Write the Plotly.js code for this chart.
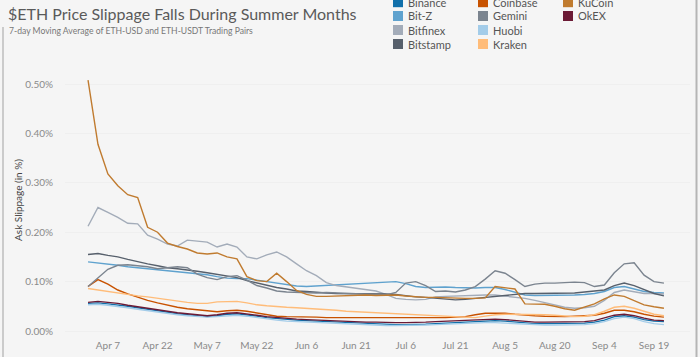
<!DOCTYPE html>
<html>
<head>
<meta charset="utf-8">
<script src="https://cdn.plot.ly/plotly-3.0.1.min.js"></script>
<style>
  html, body { margin: 0; padding: 0; background: #f5f5f5; }
  #chart { width: 700px; height: 357px; }
</style>
</head>
<body>
<div id="chart"></div>
<script>
// ---- Data (7-day moving average ask slippage, in %) ----
const dates = [
  "2020-04-01","2020-04-04","2020-04-07","2020-04-10","2020-04-13","2020-04-16","2020-04-19","2020-04-22","2020-04-25","2020-04-28",
  "2020-05-01","2020-05-04","2020-05-07","2020-05-10","2020-05-13","2020-05-16","2020-05-19","2020-05-22","2020-05-25","2020-05-28",
  "2020-05-31","2020-06-03","2020-06-06","2020-06-09","2020-06-12","2020-06-15","2020-06-18","2020-06-21","2020-06-24","2020-06-27",
  "2020-06-30","2020-07-03","2020-07-06","2020-07-09","2020-07-12","2020-07-15","2020-07-18","2020-07-21","2020-07-24","2020-07-27",
  "2020-07-30","2020-08-02","2020-08-05","2020-08-08","2020-08-11","2020-08-14","2020-08-17","2020-08-20","2020-08-23","2020-08-26",
  "2020-08-29","2020-09-01","2020-09-04","2020-09-07","2020-09-10","2020-09-13","2020-09-16","2020-09-19","2020-09-22"
];

const binance = [0.056,0.057,0.055,0.053,0.050,0.047,0.044,0.040,0.037,0.035,
  0.033,0.031,0.029,0.031,0.034,0.035,0.033,0.030,0.027,0.025,
  0.023,0.022,0.021,0.020,0.019,0.018,0.017,0.016,0.016,0.015,
  0.014,0.013,0.013,0.013,0.014,0.015,0.016,0.017,0.018,0.019,
  0.020,0.021,0.020,0.018,0.016,0.015,0.015,0.015,0.015,0.016,
  0.016,0.018,0.022,0.029,0.031,0.028,0.023,0.020,0.019];

const bitz = [0.140,0.138,0.136,0.133,0.130,0.128,0.127,0.125,0.123,0.120,
  0.118,0.116,0.114,0.110,0.107,0.106,0.106,0.103,0.100,0.097,
  0.094,0.091,0.090,0.091,0.093,0.094,0.095,0.096,0.097,0.098,
  0.099,0.100,0.096,0.090,0.088,0.089,0.089,0.088,0.087,0.087,
  0.088,0.088,0.084,0.078,0.073,0.072,0.072,0.073,0.073,0.073,
  0.074,0.076,0.080,0.088,0.090,0.085,0.080,0.078,0.077];

const bitfinex = [0.212,0.250,0.240,0.230,0.218,0.217,0.194,0.186,0.176,0.172,
  0.184,0.182,0.180,0.170,0.176,0.170,0.150,0.146,0.154,0.160,
  0.150,0.136,0.122,0.112,0.098,0.092,0.089,0.087,0.084,0.081,
  0.074,0.066,0.064,0.063,0.064,0.069,0.070,0.071,0.072,0.072,
  0.073,0.073,0.071,0.069,0.066,0.062,0.058,0.053,0.048,0.046,
  0.047,0.050,0.062,0.078,0.083,0.080,0.076,0.076,0.075];

const bitstamp = [0.155,0.157,0.153,0.150,0.145,0.140,0.136,0.132,0.128,0.126,
  0.124,0.121,0.118,0.115,0.112,0.108,0.102,0.097,0.092,0.088,
  0.085,0.081,0.080,0.078,0.077,0.076,0.076,0.076,0.076,0.076,
  0.075,0.074,0.071,0.069,0.068,0.066,0.064,0.063,0.064,0.066,
  0.068,0.070,0.072,0.074,0.076,0.076,0.076,0.076,0.076,0.077,
  0.079,0.081,0.083,0.092,0.097,0.092,0.084,0.076,0.071];

const coinbase = [0.090,0.104,0.095,0.083,0.075,0.068,0.062,0.057,0.052,0.048,
  0.045,0.043,0.041,0.039,0.041,0.042,0.040,0.037,0.033,0.030,
  0.029,0.029,0.028,0.028,0.027,0.027,0.026,0.026,0.026,0.026,
  0.026,0.026,0.026,0.026,0.026,0.026,0.027,0.028,0.029,0.033,
  0.036,0.036,0.036,0.034,0.032,0.031,0.030,0.029,0.029,0.030,
  0.031,0.032,0.036,0.042,0.042,0.039,0.034,0.030,0.028];

const gemini = [0.090,0.107,0.125,0.133,0.134,0.132,0.130,0.126,0.128,0.130,
  0.128,0.115,0.108,0.104,0.110,0.112,0.103,0.092,0.087,0.081,
  0.079,0.078,0.077,0.077,0.078,0.077,0.076,0.076,0.075,0.074,
  0.073,0.078,0.097,0.100,0.092,0.080,0.081,0.079,0.083,0.090,
  0.105,0.122,0.117,0.104,0.090,0.095,0.097,0.097,0.098,0.099,
  0.098,0.090,0.093,0.118,0.136,0.138,0.113,0.100,0.097];

const huobi = [0.053,0.054,0.052,0.050,0.047,0.044,0.041,0.038,0.035,0.033,
  0.031,0.029,0.028,0.029,0.031,0.032,0.030,0.027,0.024,0.022,
  0.020,0.019,0.018,0.017,0.016,0.015,0.014,0.013,0.012,0.012,
  0.011,0.011,0.011,0.011,0.012,0.013,0.014,0.015,0.015,0.016,
  0.017,0.017,0.016,0.014,0.013,0.012,0.012,0.012,0.012,0.013,
  0.013,0.015,0.019,0.025,0.028,0.025,0.019,0.015,0.013];

const kraken = [0.086,0.083,0.079,0.076,0.074,0.071,0.069,0.066,0.063,0.060,
  0.058,0.056,0.056,0.059,0.060,0.060,0.057,0.053,0.051,0.049,
  0.048,0.047,0.046,0.045,0.043,0.042,0.040,0.039,0.038,0.038,
  0.037,0.036,0.035,0.034,0.033,0.032,0.031,0.030,0.028,0.027,
  0.030,0.033,0.034,0.034,0.034,0.034,0.033,0.032,0.030,0.029,
  0.030,0.033,0.040,0.048,0.050,0.046,0.040,0.034,0.031];

const kucoin = [0.508,0.378,0.318,0.294,0.276,0.270,0.210,0.200,0.178,0.171,
  0.166,0.158,0.156,0.158,0.150,0.146,0.110,0.102,0.100,0.117,
  0.100,0.082,0.074,0.070,0.070,0.071,0.072,0.073,0.073,0.072,
  0.073,0.073,0.071,0.069,0.068,0.068,0.067,0.066,0.066,0.066,
  0.067,0.090,0.088,0.085,0.055,0.055,0.054,0.050,0.045,0.042,
  0.048,0.055,0.065,0.073,0.070,0.062,0.053,0.049,0.046];

const okex = [0.058,0.060,0.058,0.056,0.052,0.049,0.046,0.042,0.039,0.037,
  0.035,0.033,0.031,0.033,0.036,0.037,0.035,0.032,0.029,0.027,
  0.025,0.024,0.023,0.022,0.021,0.020,0.019,0.019,0.018,0.018,
  0.017,0.017,0.017,0.017,0.018,0.019,0.020,0.021,0.022,0.023,
  0.023,0.024,0.023,0.021,0.019,0.018,0.018,0.018,0.018,0.019,
  0.019,0.021,0.026,0.032,0.034,0.031,0.026,0.022,0.021];

const exchanges = ["Binance","Bit-Z","Bitfinex","Bitstamp","Coinbase","Gemini","Huobi","Kraken","KuCoin","OkEX"];
const seriesValues = [binance, bitz, bitfinex, bitstamp, coinbase, gemini, huobi, kraken, kucoin, okex];
const colors = ["#1170aa","#5fa2ce","#a3acb9","#57606c","#c85200","#7b848f","#a3cce9","#ffbc79","#c07b2f","#6b1a35"];

const tickDates = ["2020-04-07","2020-04-22","2020-05-07","2020-05-22","2020-06-06","2020-06-21",
                   "2020-07-06","2020-07-21","2020-08-05","2020-08-20","2020-09-04","2020-09-19"];
const tickLabels = ["Apr 7","Apr 22","May 7","May 22","Jun 6","Jun 21","Jul 6","Jul 21","Aug 5","Aug 20","Sep 4","Sep 19"];
const yTicks = [0, 0.1, 0.2, 0.3, 0.4, 0.5];
const yTickLabels = ["0.00%","0.10%","0.20%","0.30%","0.40%","0.50%"];

// ---- Layout geometry ----
const W = 700, H = 357;
const M = {l: 65, r: 10, t: 65, b: 22};
const PW = W - M.l - M.r, PH = H - M.t - M.b;
const px2x = p => (p - M.l) / PW;
const px2y = p => (H - M.b - p) / PH;

const FONT = "Lato, 'Open Sans', sans-serif";

const traces = exchanges.map((name, i) => ({
  type: "scatter",
  mode: "lines",
  name: name,
  x: dates,
  y: seriesValues[i],
  line: {color: colors[i], width: 1.4},
  hoverinfo: "skip"
}));

// ---- Manual legend (3 columns x 4 rows) ----
const legendCols = [393, 478, 563];
const legendRows = [2.2, 16, 30, 44];
const shapes = [];
const annotations = [];
exchanges.forEach((name, i) => {
  const col = Math.floor(i / 4), row = i % 4;
  const sx = legendCols[col], cy = legendRows[row];
  shapes.push({
    type: "rect", xref: "paper", yref: "paper",
    x0: px2x(sx), x1: px2x(sx + 10), y0: px2y(cy + 5), y1: px2y(cy - 5),
    fillcolor: colors[i], line: {width: 0}
  });
  annotations.push({
    xref: "paper", yref: "paper", x: px2x(sx + 13), y: px2y(cy),
    xanchor: "left", yanchor: "middle", showarrow: false,
    text: name, font: {family: FONT, size: 11, color: "#555"}
  });
});

// borders
shapes.push({type: "line", xref: "paper", yref: "paper",
  x0: px2x(3), x1: px2x(3), y0: px2y(27), y1: px2y(360), line: {color: "#bcbcbc", width: 1.5}});
shapes.push({type: "line", xref: "paper", yref: "paper",
  x0: px2x(696.5), x1: px2x(696.5), y0: px2y(-3), y1: px2y(360), line: {color: "#b5b5b5", width: 2}});

// subtitle
annotations.push({
  xref: "paper", yref: "paper", x: px2x(7), y: px2y(30.5),
  xanchor: "left", yanchor: "middle", showarrow: false,
  text: "7-day Moving Average of ETH-USD and ETH-USDT Trading Pairs",
  font: {family: FONT, size: 8.6, color: "#777"}
});

const layout = {
  width: W, height: H,
  margin: M,
  paper_bgcolor: "#f5f5f5",
  plot_bgcolor: "#f5f5f5",
  showlegend: false,
  title: {
    text: "$ETH Price Slippage Falls During Summer Months",
    x: 8 / W, xanchor: "left", xref: "container",
    y: 1 - 14 / H, yanchor: "middle", yref: "container",
    font: {family: FONT, size: 16, color: "#5a5a5a"}
  },
  xaxis: {
    type: "date",
    range: ["2020-03-25 01:00", "2020-09-29 21:00"],
    tickvals: tickDates,
    ticktext: tickLabels,
    showgrid: false, zeroline: false, showline: false, ticks: "",
    ticklabelstandoff: 3,
    tickfont: {family: FONT, size: 10, color: "#8a8a8a"},
    automargin: false
  },
  yaxis: {
    range: [-0.0081, 0.5385],
    tickvals: yTicks,
    ticktext: yTickLabels,
    showgrid: true, gridcolor: "#efefef", gridwidth: 1,
    zeroline: false, showline: false, ticks: "",
    ticklabelstandoff: 11,
    tickfont: {family: FONT, size: 10, color: "#8a8a8a"},
    title: {text: "Ask Slippage (in %)", standoff: 0, font: {family: FONT, size: 10, color: "#444"}},
    automargin: false
  },
  shapes: shapes,
  annotations: annotations
};

Plotly.newPlot("chart", traces, layout, {displayModeBar: false, staticPlot: true});
</script>
</body>
</html>
